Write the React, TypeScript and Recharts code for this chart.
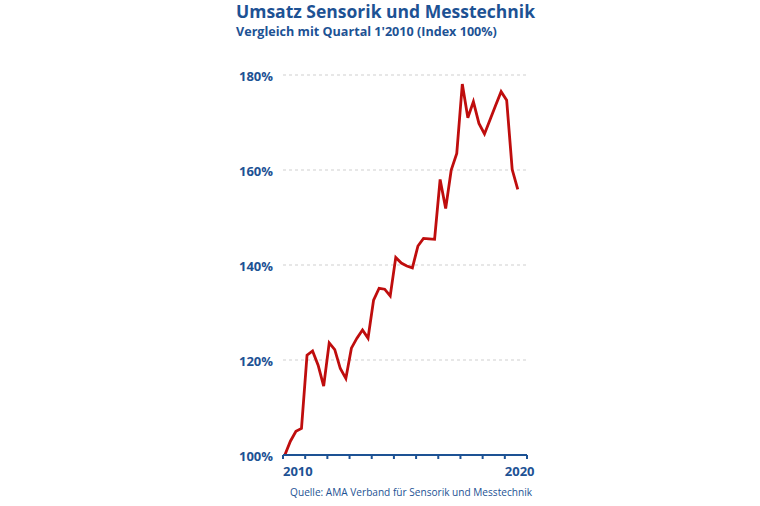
import React from "react";
import { LineChart, Line, XAxis, YAxis, CartesianGrid } from "recharts";

const BLUE = "#1d5294";
const RED = "#bf0d0d";

const title = "Umsatz Sensorik und Messtechnik";
const subtitle = "Vergleich mit Quartal 1'2010 (Index 100%)";
const source = "Quelle: AMA Verband für Sensorik und Messtechnik";

// quarters Q1 2010 .. Q3 2020
const quarters = [
  "2010-1", "2010-2", "2010-3", "2010-4",
  "2011-1", "2011-2", "2011-3", "2011-4",
  "2012-1", "2012-2", "2012-3", "2012-4",
  "2013-1", "2013-2", "2013-3", "2013-4",
  "2014-1", "2014-2", "2014-3", "2014-4",
  "2015-1", "2015-2", "2015-3", "2015-4",
  "2016-1", "2016-2", "2016-3", "2016-4",
  "2017-1", "2017-2", "2017-3", "2017-4",
  "2018-1", "2018-2", "2018-3", "2018-4",
  "2019-1", "2019-2", "2019-3", "2019-4",
  "2020-1", "2020-2", "2020-3",
];

// index, Q1 2010 = 100
const umsatz = [
  100, 102.9, 105.0, 105.6,
  121.0, 121.9, 118.9, 114.5,
  123.6, 122.2, 118.2, 116.1,
  122.5, 124.6, 126.3, 124.6,
  132.6, 135.1, 134.9, 133.5,
  141.6, 140.4, 139.8, 139.4,
  144.0, 145.6, 145.5, 145.4,
  158.0, 151.9, 160.0, 163.5,
  178.1, 171.0, 174.4, 169.8,
  167.6, 170.6, 173.6, 176.5,
  174.7, 160.1, 155.9,
];

const yearTicks = [2010, 2011, 2012, 2013, 2014, 2015, 2016, 2017, 2018, 2019, 2020, 2021];
const yearLabels = [2010, 2020];
const yTicks = [100, 120, 140, 160, 180];

// each point sits about a month into its quarter
const data = quarters.map((q, i) => {
  const [y, n] = q.split("-").map(Number);
  return { t: y + (n - 1) / 4 + 1 / 12, v: umsatz[i] };
});

const font = "'Open Sans', sans-serif";

const YearTick = (props: any) => {
  const { x, y, payload } = props;
  if (!yearLabels.includes(payload.value)) return null;
  return (
    <text x={x} y={y + 9} textAnchor="start" fill={BLUE} fontSize={13} fontWeight={700} fontFamily={font}>
      {payload.value}
    </text>
  );
};

export default function App() {
  return (
    <div style={{ position: "absolute", left: 0, top: 0, width: 760, height: 506, background: "#fff", fontFamily: font }}>
      <div style={{ position: "absolute", left: 236, top: -1, fontSize: 17.5, fontWeight: 700, color: BLUE, whiteSpace: "nowrap" }}>
        {title}
      </div>
      <div style={{ position: "absolute", left: 236, top: 23, fontSize: 12.6, fontWeight: 700, color: BLUE, whiteSpace: "nowrap" }}>
        {subtitle}
      </div>
      <LineChart width={760} height={506} data={data} margin={{ top: 75, right: 233, bottom: 21, left: 233 }}>
        <CartesianGrid horizontal vertical={false} stroke="#cfcfcf" strokeDasharray="3 3" />
        <XAxis
          dataKey="t"
          type="number"
          domain={[2010, 2021]}
          ticks={yearTicks}
          interval={0}
          height={30}
          axisLine={{ stroke: BLUE, strokeWidth: 2 }}
          tickLine={{ stroke: BLUE, strokeWidth: 2 }}
          tickSize={4}
          tickMargin={8}
          tick={<YearTick />}
        />
        <YAxis
          domain={[100, 180]}
          ticks={yTicks}
          width={50}
          axisLine={false}
          tickLine={false}
          tickMargin={4}
          tickFormatter={(v) => `${v}%`}
          tick={{ fill: BLUE, fontSize: 13, fontWeight: 700, fontFamily: font, dy: 1 }}
        />
        <Line type="linear" dataKey="v" stroke={RED} strokeWidth={2.8} dot={false} isAnimationActive={false} />
      </LineChart>
      <div style={{ position: "absolute", right: 228, top: 485, fontSize: 10.1, color: BLUE, whiteSpace: "nowrap" }}>
        {source}
      </div>
    </div>
  );
}
